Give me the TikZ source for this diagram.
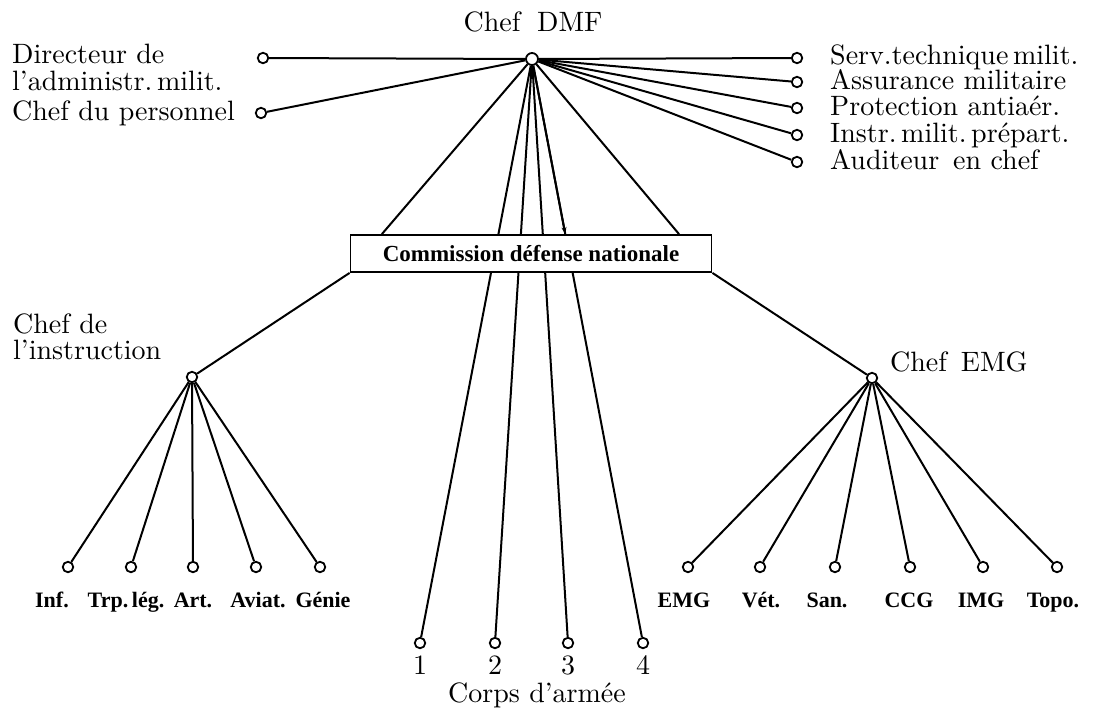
\documentclass[tikz,border=0pt]{standalone}
\usepackage{fontspec}
\setmainfont{lmroman10-regular.otf}
\newfontfamily\boldf{Liberation Serif}
\usetikzlibrary{calc,arrows.meta,intersections}
\pgfdeclarelayer{bg}
\pgfsetlayers{bg,main}
\begin{document}
\begin{tikzpicture}[x=1pt,y=-1pt,
  lbl/.style={font=\fontsize{28}{30}\selectfont, inner sep=0pt},
  blbl/.style={font=\boldf\bfseries\fontsize{22}{24}\selectfont, inner sep=0pt, anchor=base},
  dot/.style={circle, draw, fill=white, line width=1.8pt, minimum size=10.5pt, inner sep=0pt},
  hubdot/.style={dot, minimum size=12pt},
  conn/.style={line width=2pt},
  cbox/.style={draw, fill=white, line width=1.8pt, minimum width=361pt, minimum height=37pt, inner sep=0pt,
     font=\boldf\bfseries\fontsize{23}{25}\selectfont}]
\useasboundingbox (0,0) rectangle (1100,713);

% hub
\node[hubdot] (dmf) at (532,59) {};
\node[lbl, anchor=base] (tdmf) at (533,31) {Chef\hspace{0.6em}DMF};

% left staff
\node[dot] (dir) at (263,58) {};
\node[dot] (per) at (261,113) {};
\node[lbl, anchor=base west] (tdir1) at (12,63) {Directeur de};
\node[lbl, anchor=base west] (tdir2) at (12,90) {l’administr.\,milit.};
\node[lbl, anchor=base west] (tper) at (12,120) {Chef du personnel};

% right staff
\node[dot] (r1) at (797,58) {};
\node[dot] (r2) at (797,82) {};
\node[dot] (r3) at (797,108) {};
\node[dot] (r4) at (797,135) {};
\node[dot] (r5) at (797,162) {};
\node[lbl, anchor=base west] (tr1) at (830,64) {Serv.technique\,milit.};
\node[lbl, anchor=base west] (tr2) at (830,89.5) {Assurance militaire};
\node[lbl, anchor=base west] (tr3) at (830,115.5) {Protection antiaér.};
\node[lbl, anchor=base west] (tr4) at (830,142) {Instr.\,milit.\,prépart.};
\node[lbl, anchor=base west] (tr5) at (830,169) {Auditeur\hspace{0.5em}en chef};

% commission
\node[cbox] (cdn) at (531,253.5) {Commission défense nationale};
\coordinate (bl) at ($(cdn.north west)!0.089!(cdn.north east)$);
\coordinate (br) at ($(cdn.north west)!0.908!(cdn.north east)$);

% chef de l'instruction
\node[dot] (ins) at (192,377) {};
\node[lbl, anchor=base west] (tins1) at (13,333) {Chef de};
\node[lbl, anchor=base west] (tins2) at (13,359) {l’instruction};
\foreach \n/\x/\lx/\t in {i1/68/52/Inf., i2/131/126/Trp.\,lég., i3/193/193/Art., i4/256/258/Aviat., i5/320/323/Génie}{
  \node[dot] (\n) at (\x,567) {};
  \node[blbl] (t\n) at (\lx,607) {\t};
}

% chef EMG
\node[dot] (emg) at (872,378) {};
\node[lbl, anchor=base west] (temg) at (890,371) {Chef\hspace{0.5em}EMG};
\foreach \n/\x/\lx/\t in {e1/688/684/EMG, e2/760/761/Vét., e3/835/827/San., e4/910/909/CCG, e5/983/981/IMG, e6/1057/1053/Topo.}{
  \node[dot] (\n) at (\x,567) {};
  \node[blbl] (t\n) at (\lx,607) {\t};
}

% corps d'armee
\foreach \n/\x/\t in {k1/420/1, k2/495/2, k3/568/3, k4/643/4}{
  \node[dot] (\n) at (\x,643) {};
  \node[lbl, anchor=base] (t\n) at (\x,674) {\t};
}
\node[lbl, anchor=base] (tcorps) at (537,702) {Corps d’armée};

\path (intersection of dmf.center--k4.center and cdn.north west--cdn.north east) coordinate (a4);

\begin{pgfonlayer}{bg}
  \draw[conn] (dmf) -- (dir);
  \draw[conn] (dmf) -- (per);
  \foreach \n in {r1,r2,r3,r4,r5} \draw[conn] (dmf) -- (\n);
  \draw[conn] (dmf) -- (bl);
  \draw[conn] (dmf) -- (br);
  \foreach \n in {k1,k2,k3,k4} \draw[conn] (dmf) -- (\n);
  \draw[conn, -{Stealth[length=7pt,width=5pt]}] (dmf) -- (a4);
  \draw[conn] (cdn.south west) -- (ins);
  \draw[conn] (cdn.south east) -- (emg);
  \foreach \n in {i1,i2,i3,i4,i5} \draw[conn] (ins) -- (\n);
  \foreach \n in {e1,e2,e3,e4,e5,e6} \draw[conn] (emg) -- (\n);
\end{pgfonlayer}
\end{tikzpicture}
\end{document}
